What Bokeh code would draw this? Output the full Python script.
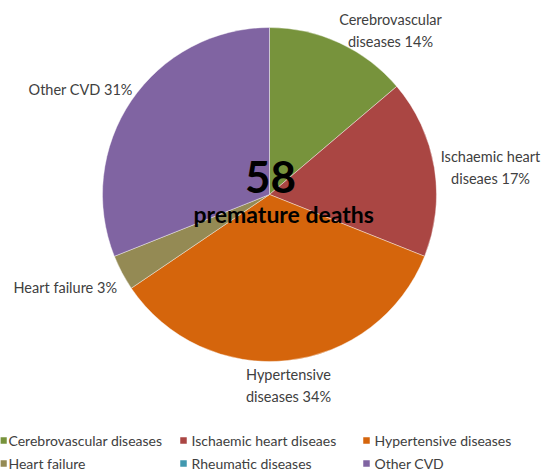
import math
from bokeh.plotting import figure
from bokeh.models import Range1d, ColumnDataSource
from bokeh.core.properties import value
from bokeh.embed import file_html
from bokeh.resources import INLINE

# ---- data ----
categories = ["Cerebrovascular diseases", "Ischaemic heart diseaes", "Hypertensive diseases",
              "Heart failure", "Rheumatic diseases", "Other CVD"]
label_names = ["Cerebrovascular\ndiseases", "Ischaemic heart\ndiseaes", "Hypertensive\ndiseases",
               "Heart failure", "Rheumatic diseases", "Other  CVD"]
deaths = [8, 10, 20, 2, 0, 18]
colors = ["#77933C", "#AA4643", "#D5650C", "#948A54", "#4198AF", "#8064A2"]
center_number = "58"
center_caption = "premature  deaths"

W, H = 545, 473
FONT = "Lato"

def px(x):  # page x -> data x
    return x

def py(y):  # page y -> data y
    return H - y

p = figure(width=W, height=H, output_backend="svg", toolbar_location=None,
           x_range=Range1d(0, W), y_range=Range1d(0, H), min_border=0)
p.axis.visible = False
p.grid.visible = False
p.outline_line_color = None
p.background_fill_color = "white"
p.border_fill_color = "white"

total = sum(deaths)
cx, cy, r = px(269), py(194), 167
starts, ends, cols = [], [], []
acc = 0
for v, c in zip(deaths, colors):
    s = math.pi / 2 - 2 * math.pi * acc / total
    acc += v
    e = math.pi / 2 - 2 * math.pi * acc / total
    if v > 0:
        starts.append(s)
        ends.append(e)
        cols.append(c)

src = ColumnDataSource(dict(start=starts, end=ends, color=cols))
p.wedge(x=cx, y=cy, radius=r, start_angle="start", end_angle="end", direction="clock",
        fill_color="color", line_color="white", line_alpha=0.5, line_width=0.8, source=src)

# data labels (positions in page coords)
label_pos = [(390, 30, "center"), (490, 167, "center"), (288, 385, "center"),
             (13, 287, "left"), None, (136, 89, "right")]
for name, v, pos in zip(label_names, deaths, label_pos):
    if pos is None or v == 0:
        continue
    pct = round(v / total * 100)
    p.text(x=[px(pos[0])], y=[py(pos[1])], text=[f"{name} {pct}%"], text_align=pos[2],
           text_baseline="middle", text_font=value(FONT), text_font_size="14.5px",
           text_color="#404040", text_line_height=1.3)

# center text
p.text(x=[px(270)], y=[py(176)], text=[center_number], text_align="center", text_baseline="middle",
       text_font=value(FONT), text_font_style="bold", text_font_size="44px", text_color="black")
p.text(x=[px(286)], y=[py(213)], text=[center_caption], text_align="center", text_baseline="middle",
       text_font=value(FONT), text_font_style="bold", text_font_size="23px", text_color="black")

# legend
col_x = [3, 183, 366]
row_y = [440, 463]
lx, ly, tx = [], [], []
for i, c in enumerate(categories):
    col, row = i % 3, i // 3
    lx.append(px(col_x[col]))
    ly.append(py(row_y[row]))
    tx.append(px(col_x[col] + 5 if col == 0 else col_x[col] + 8))
p.scatter(x=lx, y=ly, marker="square", size=6.5, fill_color=colors, line_color=None)
p.text(x=tx, y=ly, text=categories, text_align="left", text_baseline="middle",
       text_font=value(FONT), text_font_size="14px", text_color="#404040")

open("out.html", "w").write(file_html(p, INLINE))
